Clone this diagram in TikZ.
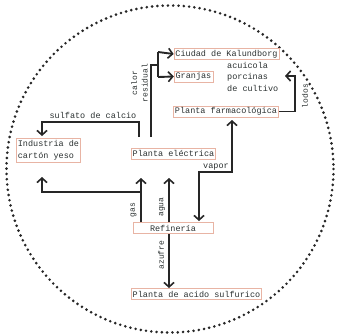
\documentclass[tikz,border=0pt]{standalone}
\usepackage{fontspec}
\setmonofont{Liberation Mono}
\usetikzlibrary{arrows.meta}
\definecolor{txt}{HTML}{2A3030}
\definecolor{ln}{HTML}{262626}
\definecolor{bx}{HTML}{E8B4A4}
\tikzset{
  x=1pt, y=-1pt,
  lbl/.style={font=\ttfamily\fontsize{8.5}{11}\selectfont, text=txt, inner sep=1pt},
  boxnode/.style={lbl, draw=bx, line width=0.7pt, inner sep=1.5pt, minimum height=11pt},
  rlbl/.style={lbl, rotate=90, align=center, font=\ttfamily\fontsize{8}{10.5}\selectfont},
  flow/.style={draw=ln, line width=1.9pt, line cap=butt, line join=miter},
  tip/.style={-{Straight Barb[length=4.5pt,width=10pt,line width=1.6pt]}},
  bothtip/.style={{Straight Barb[length=4.5pt,width=10pt,line width=1.6pt]}-{Straight Barb[length=4.5pt,width=10pt,line width=1.6pt]}},
}
\begin{document}
\begin{tikzpicture}
\useasboundingbox (0,0) rectangle (338,335);
% dotted circle
\draw[line width=2.9pt, line cap=round, dash pattern=on 0pt off 5.3pt, draw=ln] (170,169) circle[radius=163.5];

% nodes
\node[boxnode, minimum width=103pt] (kal) at (226.5,54) {Ciudad de Kalundborg};
\node[boxnode, minimum width=37pt] (gran) at (193.5,76.5) {Granjas};
\node[lbl, align=left, anchor=north west, font=\ttfamily\fontsize{8.5}{11.5}\selectfont] (acu) at (226,61) {acuicola\\porcinas\\de cultivo};
\node[boxnode, minimum width=102pt] (farm) at (226,111.5) {Planta farmacológica};
\node[boxnode, align=left, minimum width=63pt, minimum height=24pt, font=\ttfamily\fontsize{8.5}{12}\selectfont] (ind) at (48.5,150) {Industria de\\cartón yeso};
\node[boxnode, minimum width=81pt] (elec) at (173.5,153.5) {Planta eléctrica};
\node[boxnode, minimum width=80pt] (ref) at (173,228) {Refinería};
\node[boxnode, minimum width=127pt] (acid) at (196.5,294) {Planta de acido sulfurico};

% coordinates
\coordinate (c0) at (151,137);
\coordinate (c1) at (151,65);
\coordinate (c2) at (158,65);
\coordinate (c3) at (158,52);
\coordinate (c4) at (158,77);
\coordinate (s0) at (139,137);
\coordinate (s1) at (139,122);
\coordinate (s2) at (42,122);
\coordinate (s3) at (42,136);
\coordinate (g0) at (141,222);
\coordinate (g1) at (141,178);
\coordinate (g2) at (141,192);
\coordinate (g3) at (42,192);
\coordinate (g4) at (42,177);
\coordinate (a0) at (169,222);
\coordinate (a1) at (169,178);
\coordinate (v0) at (232,120);
\coordinate (v1) at (232,172);
\coordinate (v2) at (199,172);
\coordinate (v3) at (199,221);
\coordinate (l0) at (295,111.5);
\coordinate (l1) at (295,76);
\coordinate (l2) at (285,76);
\coordinate (z0) at (169,234);
\coordinate (z1) at (169,288);

% connectors
\draw[flow] (c0) -- (c1) -- (c2);
\draw[flow] (c3) -- (c4);
\draw[flow, tip] (c3) -- (kal.west);
\draw[flow, tip] (c4) -- (gran.west);
\draw[flow, tip] (s0) -- (s1) -- (s2) -- (s3);
\draw[flow, tip] (g0) -- (g1);
\draw[flow, tip] (g2) -- (g3) -- (g4);
\draw[flow, tip] (a0) -- (a1);
\draw[flow, bothtip] (v0) -- (v1) -- (v2) -- (v3);
\draw[flow, tip] (farm.east) -- (l0) -- (l1) -- (l2);
\draw[flow, tip] (z0) -- (z1);

% labels
\node[rlbl] (lcal) at (139.5,83) {calor\\residual};
\node[lbl] (lsul) at (93,115.5) {sulfato de calcio};
\node[rlbl] (lgas) at (133.5,210) {gas};
\node[rlbl] (lagu) at (162,207) {agua};
\node[lbl] (lvap) at (216,167) {vapor};
\node[rlbl] (llod) at (305,96) {lodos};
\node[rlbl] (lazu) at (161,255) {azufre};
\end{tikzpicture}
\end{document}
